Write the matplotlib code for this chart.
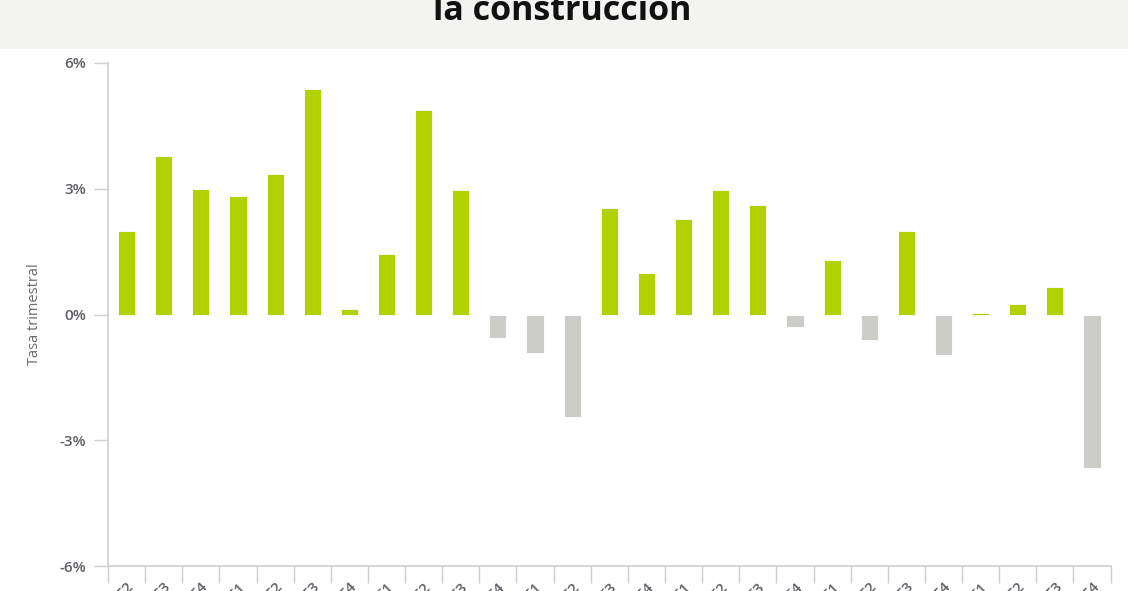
import matplotlib
matplotlib.use("Agg")
import matplotlib.pyplot as plt
import numpy as np
from matplotlib.patches import Rectangle

plt.rcParams['font.family'] = ['Open Sans', 'DejaVu Sans']

title = "la construcción"
ylabel = "Tasa trimestral"
years = ["2007"] * 3 + ["2008"] * 4 + ["2009"] * 4 + ["2010"] * 4 + ["2011"] * 4 + ["2012"] * 4 + ["2013"] * 4
quarters = ["T2", "T3", "T4"] + ["T1", "T2", "T3", "T4"] * 6
labels = [f"{y}-{q}" for y, q in zip(years, quarters)]
values = [2.0, 3.79, 2.99, 2.82, 3.36, 5.38, 0.14, 1.44, 4.88, 2.96,
          -0.56, -0.92, -2.45, 2.53, 0.98, 2.28, 2.97, 2.61, -0.30,
          1.31, -0.60, 1.99, -0.96, 0.04, 0.25, 0.65, -3.66]
yticks = [-6, -3, 0, 3, 6]

GREEN = "#b2d100"
GRAY = "#cccdc8"
AXIS = "#cfcfcf"
TXT = "#5f6166"

fig = plt.figure(figsize=(11.28, 5.91), dpi=100)
fig.patch.set_facecolor("white")
# header band
fig.patches.append(Rectangle((0, 1 - 48.5 / 591), 1, 48.5 / 591, transform=fig.transFigure,
                             facecolor="#f3f3f1", edgecolor="none", zorder=0))
fig.text(0.4985, 1 - 20 / 591, title, ha="center", va="baseline", fontsize=24.5,
         fontweight="bold", color="#111111")

ax = fig.add_axes([108 / 1128, 1 - 566 / 591, (1110.6 - 108) / 1128, (566 - 63) / 591])
x = np.arange(len(values))
colors = [GREEN if v >= 0 else GRAY for v in values]
ax.bar(x, values, width=0.46, color=colors, edgecolor="#ffffff", linewidth=0.6, zorder=3)

ax.set_xlim(-0.5, len(values) - 0.5)
ax.set_ylim(-6, 6)
ax.set_yticks(yticks)
ax.set_yticklabels([f"{t}%" for t in yticks], fontsize=11, color=TXT, fontweight="semibold")
ax.tick_params(axis="y", length=10, width=1, color=AXIS, pad=6)

ax.set_xticks(x)
ax.set_xticklabels(labels, rotation=45, ha="right", rotation_mode="anchor", fontsize=11,
                   color=TXT, fontweight="semibold")
ax.tick_params(axis="x", which="major", length=0, pad=10)
ax.set_xticks(np.arange(-0.5, len(values), 1.0), minor=True)
ax.tick_params(axis="x", which="minor", length=12, width=1, color=AXIS)

for s in ["top", "right"]:
    ax.spines[s].set_visible(False)
for s in ["left", "bottom"]:
    ax.spines[s].set_color(AXIS)
    ax.spines[s].set_linewidth(1.2)

ax.set_ylabel(ylabel, fontsize=10.5, color="#6a6a6a")
ax.yaxis.set_label_coords(-0.066, 0.5)

fig.savefig("out.png", dpi=100)
